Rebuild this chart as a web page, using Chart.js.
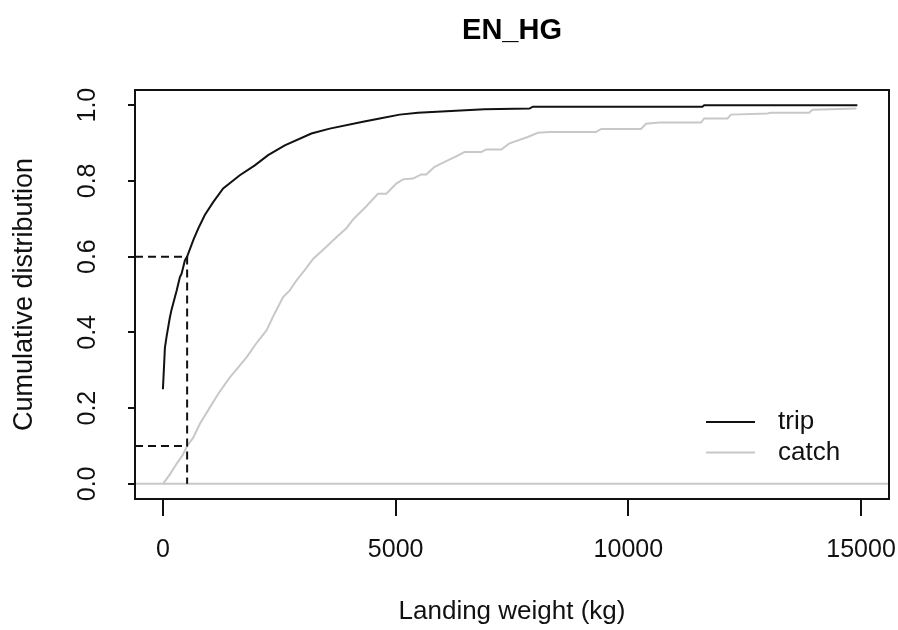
<!DOCTYPE html>
<html>
<head>
<meta charset="utf-8">
<script src="https://cdn.jsdelivr.net/npm/chart.js@4.4.1/dist/chart.umd.min.js"></script>
<style>
  html, body { margin: 0; padding: 0; background: #fff; }
</style>
</head>
<body>
<canvas id="ecdf" width="898" height="630"></canvas>
<script>
// cumulative distribution of trips (black) and of catch (grey) against landing weight
const tripKg  = [0, 43, 80, 150, 185, 294, 365, 401, 472, 520, 650, 758, 900, 1080, 1294, 1652, 1974, 2260, 2618, 3190, 3584, 4298, 4657, 5086, 5479, 6088, 6910, 7876, 7948, 11590, 11630, 14920];
const tripCum = [0.25, 0.36, 0.39, 0.44, 0.46, 0.51, 0.546, 0.555, 0.59, 0.60, 0.643, 0.674, 0.71, 0.744, 0.78, 0.815, 0.841, 0.868, 0.894, 0.925, 0.938, 0.956, 0.965, 0.975, 0.98, 0.984, 0.989, 0.991, 0.996, 0.996, 1.0, 1.0];

const catchKg  = [0, 150, 294, 420, 520, 650, 800, 1009, 1200, 1438, 1796, 2000, 2225, 2400, 2582, 2725, 2869, 3050, 3226, 3500, 3762, 3942, 4100, 4371, 4620, 4800, 5014, 5157, 5372, 5551, 5658, 5837, 6052, 6300, 6481, 6839, 6946, 7268, 7446, 7840, 8054, 8305, 9306, 9414, 10272, 10379, 10665, 11560, 11631, 12131, 12203, 12989, 13062, 13884, 13956, 14900];
const catchCum = [0, 0.025, 0.053, 0.075, 0.10, 0.122, 0.16, 0.202, 0.24, 0.281, 0.334, 0.37, 0.405, 0.45, 0.493, 0.511, 0.537, 0.565, 0.594, 0.625, 0.655, 0.675, 0.70, 0.733, 0.766, 0.766, 0.793, 0.804, 0.806, 0.817, 0.817, 0.837, 0.85, 0.865, 0.876, 0.876, 0.883, 0.883, 0.899, 0.916, 0.927, 0.929, 0.929, 0.937, 0.937, 0.951, 0.954, 0.954, 0.965, 0.965, 0.975, 0.978, 0.98, 0.98, 0.988, 0.991];

const xTicks = [0, 5000, 10000, 15000];
const yTicks = [0, 0.2, 0.4, 0.6, 0.8, 1.0];
const xRange = [-600, 15600];
const yRange = [-0.04, 1.04];

// reference: 60% of trips land under ~520 kg, which is ~10% of the catch
const cutoffKg = 520;
const tripShare = 0.6;
const catchShare = 0.1;

const FONT = 'Liberation Sans, Arial, Helvetica, sans-serif';
const zip = (xs, ys) => xs.map((x, i) => ({x: x, y: ys[i]}));

const data = {
    datasets: [{
        label: 'trip',
        data: zip(tripKg, tripCum),
        borderColor: '#111',
        borderWidth: 2,
        inLegend: true,
        order: 1
    },
    {
        label: 'catch',
        data: zip(catchKg, catchCum),
        borderColor: '#c8c8c8',
        borderWidth: 2,
        inLegend: true,
        order: 2
    },
    {
        label: 'zero',
        data: [{x: xRange[0], y: 0}, {x: xRange[1], y: 0}],
        borderColor: '#c8c8c8',
        borderWidth: 2,
        order: 3
    },
    {
        label: 'cut trip',
        data: [{x: xRange[0], y: tripShare}, {x: cutoffKg, y: tripShare}, {x: cutoffKg, y: 0}],
        borderColor: '#111',
        borderWidth: 2,
        borderDash: [8, 5],
        order: 0
    },
    {
        label: 'cut catch',
        data: [{x: xRange[0], y: catchShare}, {x: cutoffKg, y: catchShare}],
        borderColor: '#111',
        borderWidth: 2,
        borderDash: [8, 5],
        order: 0
    }]
};

// R style box round the plot region
const plotBox = {
    id: 'plotBox',
    afterDraw(chart) {
        const {ctx, chartArea: a} = chart;
        ctx.save();
        ctx.strokeStyle = '#111';
        ctx.lineWidth = 2;
        ctx.strokeRect(a.left, a.top, a.right - a.left, a.bottom - a.top);
        ctx.restore();
    }
};

// legend sits inside the plot, bottom right
const insideLegend = {
    id: 'insideLegend',
    afterDraw(chart) {
        const {ctx, chartArea: a} = chart;
        const items = chart.data.datasets.filter(d => d.inLegend);
        ctx.save();
        ctx.font = '26px ' + FONT;
        ctx.textBaseline = 'middle';
        ctx.fillStyle = '#111';
        items.forEach((d, i) => {
            const y = a.bottom - 77 + i * 30.5;
            ctx.strokeStyle = d.borderColor;
            ctx.lineWidth = 2;
            ctx.beginPath();
            ctx.moveTo(a.right - 183, y);
            ctx.lineTo(a.right - 134, y);
            ctx.stroke();
            ctx.fillText(d.label, a.right - 111, y);
        });
        ctx.restore();
    }
};

const options = {
    responsive: false,
    animation: false,
    layout: {padding: {top: 0, right: 9, bottom: 0, left: 0}},
    elements: {point: {radius: 0}, line: {tension: 0}},
    plugins: {
        legend: {display: false},
        tooltip: {enabled: false},
        title: {
            display: true,
            text: 'EN_HG',
            fullSize: false,
            color: '#000',
            font: {family: FONT, size: 29, weight: 'bold'},
            padding: {top: 14, bottom: 41.2}
        }
    },
    scales: {
        x: {
            type: 'linear',
            min: xRange[0],
            max: xRange[1],
            afterBuildTicks: s => { s.ticks = xTicks.map(v => ({value: v})); },
            afterFit: s => { s.height = 131; s.paddingLeft = 0; s.paddingRight = 0; },
            border: {display: false},
            grid: {drawOnChartArea: false, drawTicks: true, tickLength: 17, color: '#111', lineWidth: 2},
            ticks: {color: '#111', font: {family: FONT, size: 25}, padding: 19, maxRotation: 0, autoSkip: false,
                    callback: v => String(v)},
            title: {display: true, text: 'Landing weight (kg)', color: '#111',
                    font: {family: FONT, size: 26}, padding: {top: 0, bottom: 3}}
        },
        y: {
            min: yRange[0],
            max: yRange[1],
            afterBuildTicks: s => { s.ticks = yTicks.map(v => ({value: v})); },
            afterFit: s => { s.width = 135; s.paddingTop = 0; s.paddingBottom = 0; },
            border: {display: false},
            grid: {drawOnChartArea: false, drawTicks: true, tickLength: 7, color: '#111', lineWidth: 2},
            ticks: {color: '#111', font: {family: FONT, size: 25}, padding: 23, minRotation: 90, maxRotation: 90,
                    crossAlign: 'center', autoSkip: false, callback: v => v.toFixed(1)},
            title: {display: true, text: 'Cumulative distribution', color: '#111',
                    font: {family: FONT, size: 27}, padding: {top: 8, bottom: 0}}
        }
    }
};

const config = {
    type: 'line',
    data: data,
    options: options,
    plugins: [plotBox, insideLegend]
};

new Chart(document.getElementById('ecdf'), config);
</script>
</body>
</html>
